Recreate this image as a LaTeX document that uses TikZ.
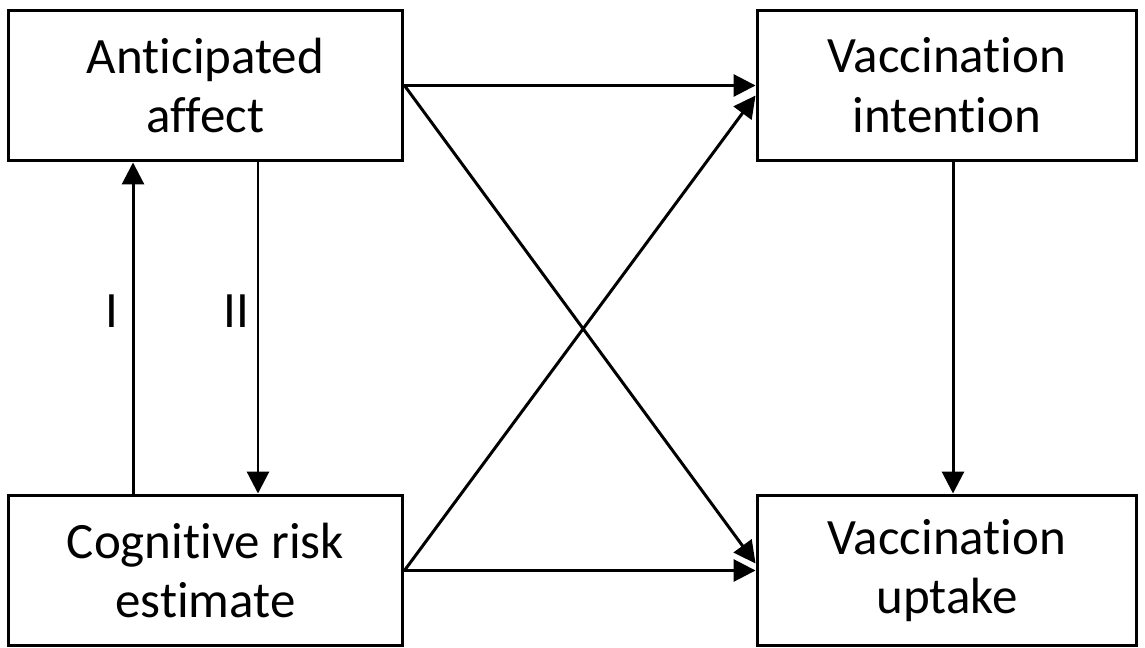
\documentclass[tikz,border=0pt]{standalone}
\usepackage{fontspec}
\setmainfont{Carlito}[Ligatures=NoCommon]
\usetikzlibrary{positioning,arrows.meta}
\tikzset{
  flowarrow/.style={-{Triangle[length=0.44cm, width=0.44cm]}, line width=1.7pt},
  varbox/.style={draw, line width=1.7pt, minimum width=7.9cm, minimum height=3.02cm, align=center, inner sep=0pt},
  pathlabel/.style={inner sep=0pt}
}

\begin{document}
\begin{tikzpicture}[x=0.02cm, y=-0.02cm, every node/.style={font=\fontsize{29}{34}\selectfont}]
  \useasboundingbox (0,0) rectangle (1145,648);
  \node[varbox] (aa) at (205.5,85.5) {Anticipated\\affect};
  \node[varbox, minimum width=7.6cm] (vi) at (947,85.5) {Vaccination\\intention};
  \node[varbox] (cre) at (205.5,570.5) {Cognitive risk\\estimate};
  \node[varbox, minimum width=7.6cm] (vu) at (947,570.5) {Vaccination\\uptake};
  % horizontal and crossing paths
  \draw[flowarrow] (aa.east) -- (vi.west);
  \draw[flowarrow] (cre.east) -- (vu.west);
  \draw[flowarrow] (aa.east) -- ([yshift=0.14cm]vu.west);
  \draw[flowarrow] (cre.east) -- ([yshift=-0.2cm]vi.west);
  % vertical paths
  \draw[flowarrow] ([xshift=-1.45cm]cre.north) -- node[pathlabel, pos=0.55, left=0.26cm]{I} ([xshift=-1.45cm]aa.south);
  \draw[flowarrow] ([xshift=1.05cm]aa.south) -- node[pathlabel, pos=0.45, left=0.14cm]{II} ([xshift=1.05cm]cre.north);
  \draw[flowarrow] ([xshift=0.12cm]vi.south) -- ([xshift=0.12cm]vu.north);
\end{tikzpicture}
\end{document}
